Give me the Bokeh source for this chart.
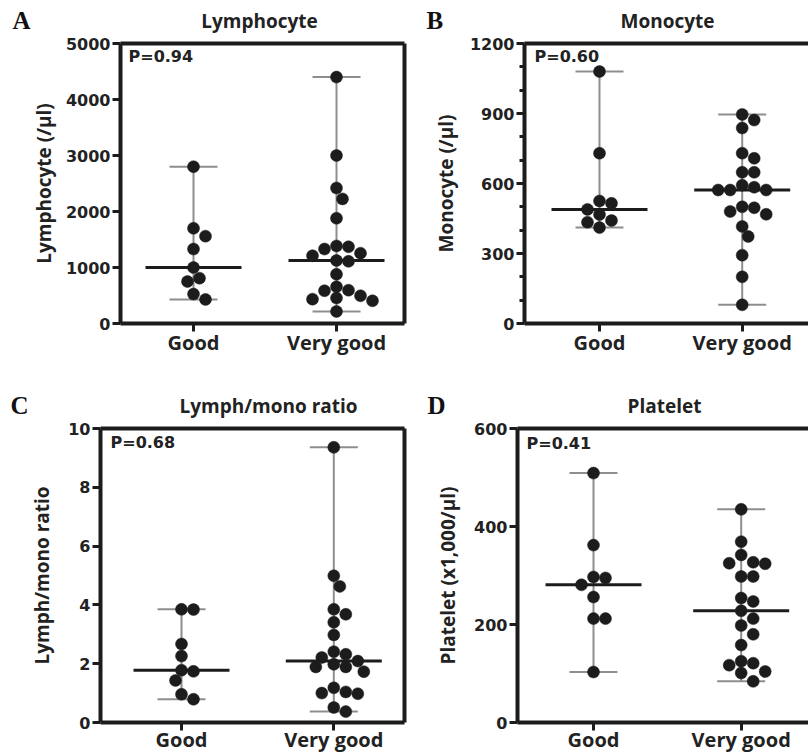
import numpy as np
from bokeh.plotting import figure
from bokeh.layouts import row, column
from bokeh.models import Range1d, FixedTicker, LinearAxis, Label, ColumnDataSource
from bokeh.embed import file_html
from bokeh.resources import INLINE

# ---------------- data ----------------
categories = ["Good", "Very good"]

lymph_good = [2800, 1700, 1560, 1330, 1000, 810, 750, 525, 430]
lymph_vgood = [4400, 3000, 2420, 2225, 1880, 1385, 1370, 1330, 1255, 1210, 1125,
               1110, 880, 655, 595, 585, 495, 455, 435, 405, 215]

mono_good = [1080, 730, 525, 515, 489, 467, 441, 434, 411]
mono_vgood = [896, 872, 838, 730, 708, 648, 648, 593, 584, 572, 572, 572,
              500, 496, 480, 468, 416, 373, 293, 200, 80]

ratio_good = [3.85, 3.84, 2.67, 2.26, 1.78, 1.74, 1.43, 0.96, 0.79]
ratio_vgood = [9.36, 4.99, 4.63, 3.85, 3.68, 3.41, 2.98, 2.41, 2.32, 2.21, 2.09,
               1.98, 1.89, 1.89, 1.73, 1.18, 1.04, 1.00, 0.98, 0.51, 0.37]

plt_good = [509, 362, 297, 295, 281, 256, 212, 212, 103]
plt_vgood = [435, 369, 342, 327, 325, 324, 298, 298, 254, 247, 228, 212, 198,
             180, 158, 125, 121, 117, 104, 101, 84]

p_values = ["P=0.94", "P=0.60", "P=0.68", "P=0.41"]
titles = ["Lymphocyte", "Monocyte", "Lymph/mono ratio", "Platelet"]
ylabels = ["Lymphocyte (/\u03bcl)", "Monocyte (/\u03bcl)", "Lymph/mono ratio",
           "Platelet (x1,000/\u03bcl)"]
letters = ["A", "B", "C", "D"]
yticks_A = [0, 1000, 2000, 3000, 4000, 5000]
yticks_B = [0, 300, 600, 900, 1200]
yminor_B = [100, 200, 400, 500, 700, 800, 1000, 1100]
yticks_C = [0, 2, 4, 6, 8, 10]
yticks_D = [0, 200, 400, 600]

# ---------------- style ----------------
DARK = "#1c1c1c"
GRAY = "#8e8e8e"
TXT = "#222222"
TICK_FONT = "DejaVu Sans"
SANS = "Open Sans"
SERIF = "Liberation Serif"
DOT = 12.0


def swarm(vals, xs, ys):
    order = np.argsort(-np.asarray(vals, dtype=float), kind="stable")
    placed = []
    offs = [0.0] * len(vals)
    step = DOT / 2.0
    cands = [0] + [s * j for j in range(1, 30) for s in (1, -1)]
    for i in order:
        py = vals[i] * ys
        px = 0.0
        for c in cands:
            px = c * step
            if all((px - qx) ** 2 + (py - qy) ** 2 >= (0.92 * DOT) ** 2 for qx, qy in placed):
                break
        placed.append((px, py))
        offs[i] = px / xs
    return offs


def border_axis():
    return LinearAxis(ticker=FixedTicker(ticks=[]), axis_line_width=4, axis_line_color=DARK,
                      major_tick_line_color=None, minor_tick_line_color=None,
                      major_tick_in=0, major_tick_out=0, minor_tick_in=0, minor_tick_out=0,
                      major_label_standoff=0, major_label_text_font_size="0px")


def panel(idx, good, vgood, ymax, yticks, yminor, PX0, PY0, W, H, FL, FR, FT, FB,
          xgood, xvg, right_border, als, xstand, pval_pos):
    bl = FL - PX0
    br = PX0 + W - FR
    bt = FT - PY0
    bb = PY0 + H - FB
    fw = FR - FL
    fh = FB - FT
    xs = xvg - xgood
    xstart = -(xgood - FL) / xs
    xend = xstart + fw / xs
    ys = fh / ymax

    p = figure(width=W, height=H, x_range=Range1d(xstart, xend), y_range=Range1d(0, ymax),
               output_backend="svg", toolbar_location=None,
               min_border_left=bl, min_border_right=br, min_border_top=bt, min_border_bottom=bb)
    p.outline_line_color = None
    p.xgrid.visible = False
    p.ygrid.visible = False
    p.background_fill_color = "white"
    p.border_fill_color = "white"

    xa = p.xaxis[0]
    xa.ticker = FixedTicker(ticks=[0, 1])
    xa.major_label_overrides = {0: categories[0], 1: categories[1]}
    xa.axis_line_width = 4
    xa.axis_line_color = DARK
    xa.major_tick_line_width = 3
    xa.major_tick_line_color = DARK
    xa.major_tick_in = 0
    xa.major_tick_out = 8
    xa.minor_tick_line_color = None
    xa.minor_tick_in = 0
    xa.minor_tick_out = 0
    xa.major_label_standoff = xstand
    xa.major_label_text_font = SANS
    xa.major_label_text_font_style = "bold"
    xa.major_label_text_font_size = "20px"
    xa.major_label_text_color = TXT

    ya = p.yaxis[0]
    ya.ticker = FixedTicker(ticks=yticks, minor_ticks=yminor)
    ya.axis_line_width = 4
    ya.axis_line_color = DARK
    ya.major_tick_line_width = 3
    ya.major_tick_line_color = DARK
    ya.major_tick_in = 0
    ya.major_tick_out = 8
    ya.minor_tick_line_width = 3
    ya.minor_tick_line_color = DARK if yminor else None
    ya.minor_tick_in = 0
    ya.minor_tick_out = 5
    ya.major_label_standoff = 2
    ya.major_label_text_font = TICK_FONT
    ya.major_label_text_font_style = "bold"
    ya.major_label_text_font_size = "16px"
    ya.major_label_text_color = TXT
    ya.axis_label = ylabels[idx]
    ya.axis_label_text_font = SANS
    ya.axis_label_text_font_style = "bold"
    ya.axis_label_text_font_size = "19px"
    ya.axis_label_text_color = TXT
    ya.axis_label_standoff = als

    p.add_layout(border_axis(), "above")
    if right_border:
        p.add_layout(border_axis(), "right")

    for gi, vals in enumerate([good, vgood]):
        lo, hi, med = float(np.min(vals)), float(np.max(vals)), float(np.median(vals))
        cap = 24.0 / xs
        mw = 48.0 / xs
        p.segment(x0=[gi, gi - cap, gi - cap], y0=[lo, lo, hi], x1=[gi, gi + cap, gi + cap],
                  y1=[hi, lo, hi], line_color=GRAY, line_width=2)
        offs = swarm(vals, xs, ys)
        src = ColumnDataSource(dict(x=[gi + o for o in offs], y=vals))
        p.scatter("x", "y", source=src, size=DOT, marker="circle", fill_color=DARK,
                  line_color=DARK, line_width=0.5)
        p.segment(x0=[gi - mw], y0=[med], x1=[gi + mw], y1=[med], line_color=DARK, line_width=3)

    p.add_layout(Label(x=xstart + (pval_pos[0] - FL) / xs, y=(FB - pval_pos[1]) / ys,
                       text=p_values[idx], text_font=TICK_FONT, text_font_style="bold",
                       text_font_size="16px", text_color=TXT, text_align="left",
                       text_baseline="alphabetic"))
    return p


def header(height, PY0, items):
    h = figure(width=808, height=height, x_range=Range1d(0, 808),
               y_range=Range1d(PY0 + height, PY0), output_backend="svg",
               toolbar_location=None, min_border=0, min_border_left=0, min_border_right=0,
               min_border_top=0, min_border_bottom=0,
               x_axis_location=None, y_axis_location=None)
    h.outline_line_color = None
    h.grid.visible = False
    h.background_fill_color = "white"
    h.border_fill_color = "white"
    for idx, lpos, tpos in items:
        h.add_layout(Label(x=lpos[0], y=lpos[1], text=letters[idx], text_font=SERIF,
                           text_font_style="bold", text_font_size="25px", text_color="#111111",
                           text_align="left", text_baseline="alphabetic"))
        h.add_layout(Label(x=tpos[0], y=tpos[1], text=titles[idx], text_font=SANS,
                           text_font_style="bold", text_font_size="19px", text_color=TXT,
                           text_align="center", text_baseline="alphabetic"))
    return h


H1 = 33
H2 = 48
hdr1 = header(H1, 0, [(0, (12, 19.5), (259, 20.3)), (1, (426, 19.5), (667, 20.3))])
hdr2 = header(H2, 370, [(2, (10, 404.5), (268, 405.3)), (3, (427, 404.5), (664, 405.3))])

pA = panel(0, lymph_good, lymph_vgood, 5000, yticks_A, [], 0, H1, 408, 370 - H1,
           120, 404, 43, 323, 193, 336, True, 6, -3, (128, 56))
pB = panel(1, mono_good, mono_vgood, 1200, yticks_B, yminor_B, 408, H1, 400, 370 - H1,
           524, 808, 43, 323, 599, 741.7, False, 8, -3, (534, 56))
pC = panel(2, ratio_good, ratio_vgood, 10, yticks_C, [], 0, 370 + H2, 408, 385 - H2,
           100, 404, 428, 722, 181, 333.3, True, 10, -5, (110, 442))
pD = panel(3, plt_good, plt_vgood, 600, yticks_D, [], 408, 370 + H2, 400, 385 - H2,
           517, 808, 428, 722, 593, 740.7, False, 10, -5, (526, 443))

layout = column(hdr1, row(pA, pB), hdr2, row(pC, pD))
open("out.html", "w").write(file_html(layout, INLINE))
